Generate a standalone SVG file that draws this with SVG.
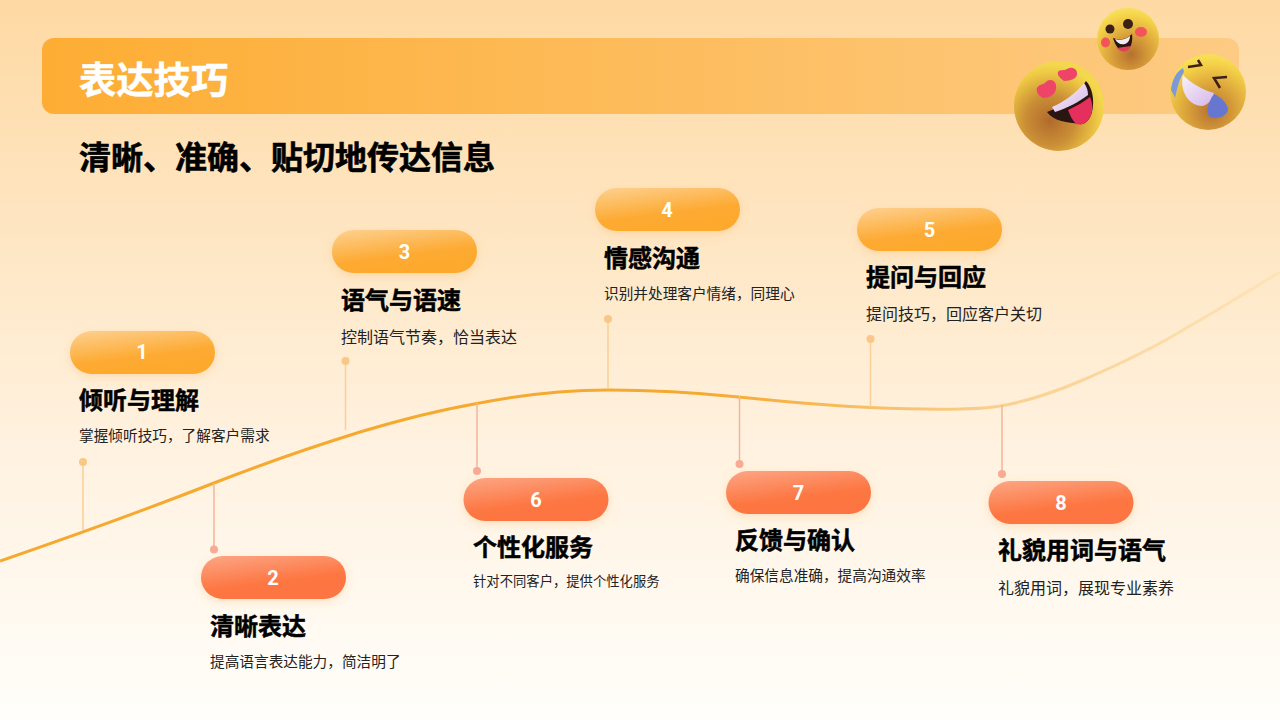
<svg xmlns="http://www.w3.org/2000/svg" width="1280" height="720" viewBox="0 0 1280 720">
<defs>
<linearGradient id="bg" x1="0" y1="0" x2="0" y2="1"><stop offset="0" stop-color="#fed9a3"/><stop offset="0.6" stop-color="#fff1de"/><stop offset="1" stop-color="#fffefb"/></linearGradient>
<linearGradient id="band" x1="0" y1="0" x2="1" y2="0"><stop offset="0" stop-color="#fdad33"/><stop offset="1" stop-color="#fdcb84"/></linearGradient>
<linearGradient id="pa" gradientUnits="objectBoundingBox" x1="0.05" y1="0" x2="0.45" y2="0.95"><stop offset="0" stop-color="#fdd08f"/><stop offset="0.7" stop-color="#fdaa32"/><stop offset="1" stop-color="#fda92e"/></linearGradient>
<linearGradient id="pb" gradientUnits="objectBoundingBox" x1="0.05" y1="0" x2="0.45" y2="0.95"><stop offset="0" stop-color="#fca584"/><stop offset="0.7" stop-color="#fd7743"/><stop offset="1" stop-color="#fd7542"/></linearGradient>
<linearGradient id="curve" gradientUnits="userSpaceOnUse" x1="0" y1="0" x2="1280" y2="0"><stop offset="0" stop-color="#f6a92f"/><stop offset="0.55" stop-color="#f6a92f"/><stop offset="0.78" stop-color="#fad08e"/><stop offset="1" stop-color="#fee3b8"/></linearGradient>
<radialGradient id="ball" cx="0.4" cy="0.66" r="0.62"><stop offset="0" stop-color="#b06a2c"/><stop offset="0.45" stop-color="#cb8f36"/><stop offset="0.85" stop-color="#eec844"/><stop offset="1" stop-color="#f3d84e"/></radialGradient>
<radialGradient id="ball2" cx="0.55" cy="0.75" r="0.72"><stop offset="0" stop-color="#b5702f"/><stop offset="0.45" stop-color="#d9a13a"/><stop offset="0.85" stop-color="#f4d048"/><stop offset="1" stop-color="#f7de56"/></radialGradient>
<linearGradient id="teeth" x1="0" y1="0" x2="1" y2="1"><stop offset="0" stop-color="#f7f2f8"/><stop offset="1" stop-color="#d5b6ea"/></linearGradient>
<filter id="sh" x="-20%" y="-30%" width="140%" height="180%"><feDropShadow dx="0" dy="3" stdDeviation="5" flood-color="#f2a04a" flood-opacity="0.25"/></filter>
</defs>
<style>
text{font-family:"Noto Sans CJK SC","Liberation Sans",sans-serif}
.n{font-family:"Roboto","Liberation Sans",sans-serif;font-size:20px;font-weight:700;fill:#fff;text-anchor:middle}
.t{font-size:24px;font-weight:700;fill:#000;stroke:#000;stroke-width:.5px}
.d{font-size:14.67px;fill:#222}
.pa{fill:url(#pa);filter:url(#sh)}
.pb{fill:url(#pb);filter:url(#sh)}
.la{stroke:#f8cf96;stroke-width:1.5;fill:none}
.lb{stroke:#f3b49c;stroke-width:1.5;fill:none}
.da{fill:#f9c889}
.db{fill:#f8ab93}
</style>
<rect width="1280" height="720" fill="url(#bg)"/>
<rect x="42" y="38" width="1197" height="76" rx="12" fill="url(#band)"/>
<text x="79" y="94" font-size="37.3" font-weight="700" fill="#fff" stroke="#fff" stroke-width=".5">表达技巧</text>
<text x="79" y="169" font-size="32" font-weight="700" fill="#000" stroke="#000" stroke-width=".6">清晰、准确、贴切地传达信息</text>

<g id="connectors">
<path d="M0 561C70 537 150 508 214 483C265 463 315 446 360 432C400 420 440 410 477 403.500C520 395 565 390 608 390C655 390 700 393 739 397C790 402 830 406 870 407.500C905 409 935 409.500 960 409C978 408.800 990 408 1002 405.800C1030 400.600 1055 392 1083 380C1120 364 1150 350 1183 330C1220 309 1250 290 1280 272" fill="none" stroke="url(#curve)" stroke-width="3"/>
<path class="la" d="M83 462V530"/><path class="lb" d="M214 483V549"/><path class="la" d="M345.500 361V430"/><path class="lb" d="M477 403V471"/><path class="la" d="M608 319V388"/><path class="lb" d="M739.500 396V464"/><path class="la" d="M870.500 339V407"/><path class="lb" d="M1002 405V474"/>
</g>

<g id="node-1"><circle class="da" cx="83" cy="462" r="4"/><rect class="pa" x="70" y="331" width="145" height="43" rx="21.500"/><text class="n" x="142" y="359">1</text><text class="t" x="79" y="409">倾听与理解</text><text class="d" x="79" y="441">掌握倾听技巧，了解客户需求</text></g>
<g id="node-2"><circle class="db" cx="214" cy="549.500" r="4"/><rect class="pb" x="201" y="556" width="145" height="43" rx="21.500"/><text class="n" x="273" y="585">2</text><text class="t" x="210" y="635">清晰表达</text><text class="d" x="210" y="667">提高语言表达能力，简洁明了</text></g>
<g id="node-3"><circle class="da" cx="345.500" cy="361" r="4"/><rect class="pa" x="332" y="230" width="145" height="43" rx="21.500"/><text class="n" x="404.500" y="259">3</text><text class="t" x="341" y="309">语气与语速</text><text class="d" style="font-size:16px" x="341" y="343">控制语气节奏，恰当表达</text></g>
<g id="node-4"><circle class="da" cx="608" cy="319" r="4"/><rect class="pa" x="595" y="188" width="145" height="43" rx="21.500"/><text class="n" x="667" y="217">4</text><text class="t" x="604" y="267">情感沟通</text><text class="d" x="604" y="299">识别并处理客户情绪，同理心</text></g>
<g id="node-5"><circle class="da" cx="870.500" cy="339" r="4"/><rect class="pa" x="857" y="208" width="145" height="43" rx="21.500"/><text class="n" x="929.500" y="237">5</text><text class="t" x="866" y="286">提问与回应</text><text class="d" style="font-size:16px" x="866" y="320">提问技巧，回应客户关切</text></g>
<g id="node-6"><circle class="db" cx="477" cy="471" r="4"/><rect class="pb" x="463.500" y="478" width="145" height="43" rx="21.500"/><text class="n" x="536" y="507">6</text><text class="t" x="473" y="556">个性化服务</text><text class="d" style="font-size:13.330px" x="473" y="586">针对不同客户，提供个性化服务</text></g>
<g id="node-7"><circle class="db" cx="739.500" cy="464" r="4"/><rect class="pb" x="726" y="471" width="145" height="43" rx="21.500"/><text class="n" x="798.500" y="500">7</text><text class="t" x="735" y="549">反馈与确认</text><text class="d" x="735" y="581">确保信息准确，提高沟通效率</text></g>
<g id="node-8"><circle class="db" cx="1002" cy="474" r="4"/><rect class="pb" x="988.500" y="481" width="145" height="43" rx="21.500"/><text class="n" x="1061" y="510">8</text><text class="t" x="998" y="559">礼貌用词与语气</text><text class="d" style="font-size:16px" x="998" y="594">礼貌用词，展现专业素养</text></g>

<g id="emoji-love">
<circle cx="1059" cy="106" r="45" fill="url(#ball)"/>
<path d="M1047 112C1062 107 1076 96 1086 81C1092 87 1095 100 1092 112C1090 120 1085 125 1079 124C1068 122 1054 122 1047 112Z" fill="#2a1512"/>
<path d="M1052 107C1064 102 1075 94 1084 83C1087 87 1088 91 1088 95C1079 102 1067 108 1055 112Z" fill="url(#teeth)"/>
<path d="M1068 110C1076 106 1084 102 1090 97C1093 103 1093 112 1090 117C1087 123 1081 126 1076 124C1072 120 1070 115 1068 110Z" fill="#e52f5c"/>
<path d="M1047 81C1053 78 1057 83 1056 88C1056 94 1050 98 1043 98C1038 96 1036 91 1037 88C1039 84 1044 85 1047 81Z" fill="#ee4468"/>
<path d="M1067 69C1072 66 1077 69 1077 73C1078 78 1071 81 1064 81C1059 78 1057 74 1058 72C1060 69 1064 71 1067 69Z" fill="#ee4468"/>
</g>
<g id="emoji-smile">
<circle cx="1128" cy="39" r="31" fill="url(#ball2)"/>
<circle cx="1110" cy="29" r="4.500" fill="#3b2018"/><circle cx="1128" cy="24" r="5" fill="#3b2018"/>
<ellipse cx="1141" cy="32" rx="6" ry="5" fill="#f2545a"/><ellipse cx="1105.500" cy="42.500" rx="4.500" ry="5" fill="#f2545a"/>
<path d="M1113 38C1120 41 1127 39 1132 34C1133 42 1131 48 1127 50C1121 53 1116 48 1113 38Z" fill="#2a1512"/>
<path d="M1115 39C1120 41 1126 39 1130 36C1130 40 1128 43 1125 44C1120 45 1117 43 1115 39Z" fill="#f3eaf3"/>
<path d="M1117 48C1121 47 1126 47 1131 46C1128 53 1121 53 1117 48Z" fill="#e2405a"/>
</g>
<g id="emoji-laugh">
<circle cx="1208" cy="92" r="38" fill="url(#ball2)"/>
<path d="M1183 68C1176 72 1172 80 1171 90C1172 92 1174 95 1175 98C1177 88 1180 77 1184 72Z" fill="#7c9ada"/>
<path d="M1183 75C1191 83 1201 89 1214 93C1212 100 1208 105 1202 106C1190 106 1179 92 1183 75Z" fill="url(#teeth)"/>
<path d="M1188 67L1201 65L1198 60" fill="none" stroke="#3b2018" stroke-width="2.500"/>
<path d="M1227 77L1214 78L1220 88" fill="none" stroke="#3b2018" stroke-width="2.500"/>
<path d="M1214 94C1221 97 1228 104 1228 110C1226 117 1216 120 1210 117C1205 113 1208 102 1214 94Z" fill="#6777cf"/>
</g>
</svg>
